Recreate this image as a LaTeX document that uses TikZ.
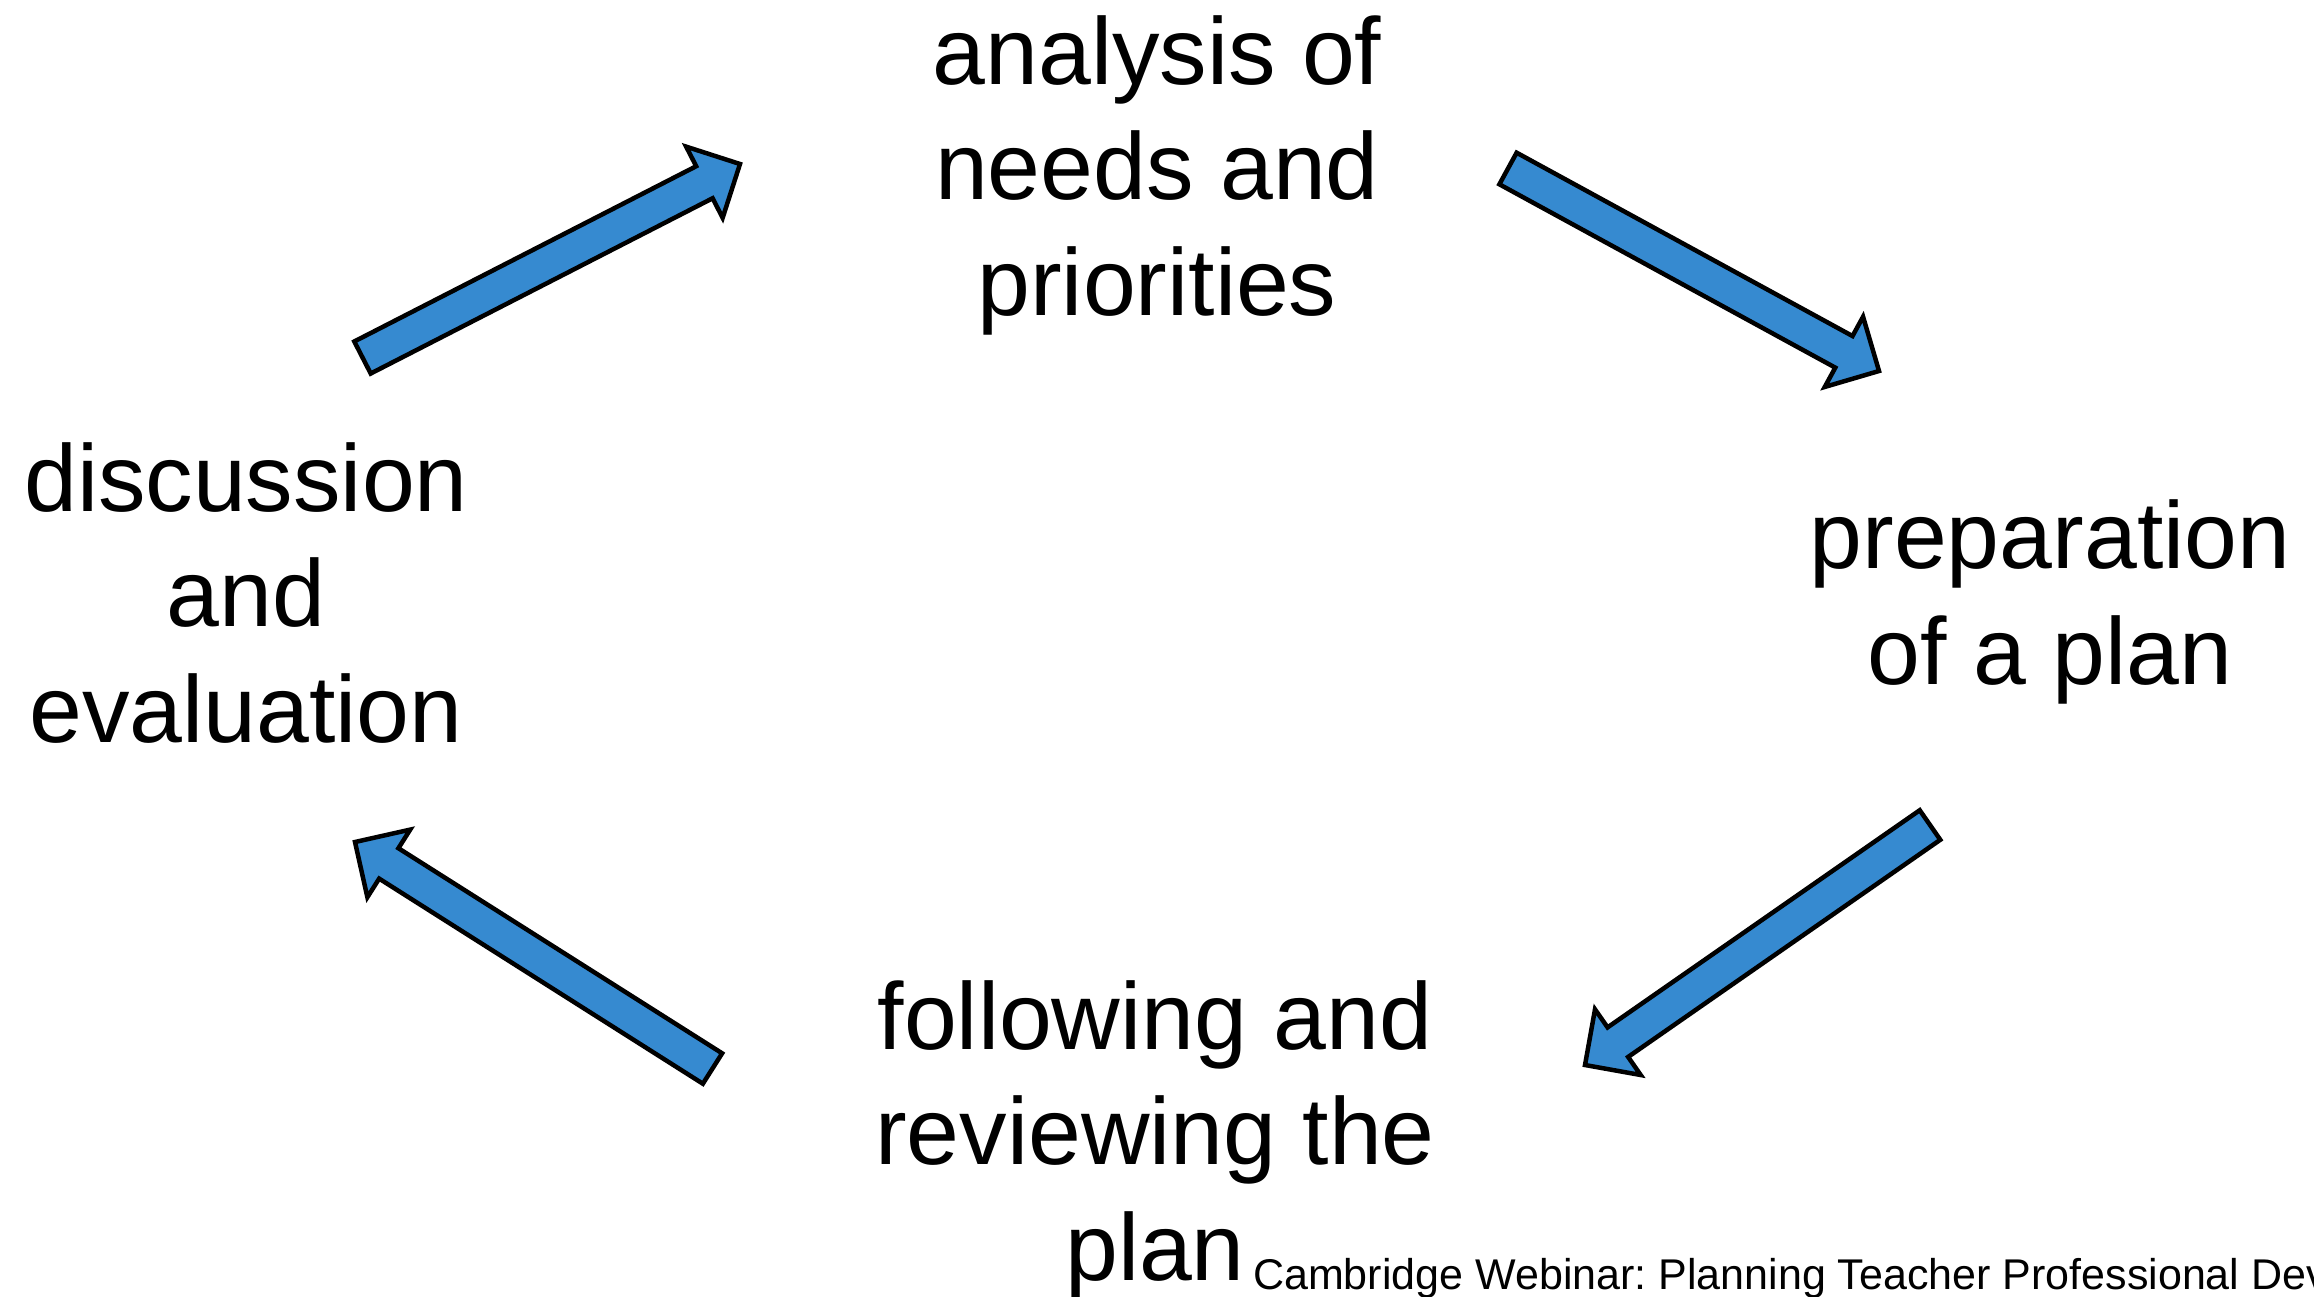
\documentclass[tikz,border=0pt]{standalone}
\usepackage{fontspec}
\setmainfont{Liberation Sans}
\usetikzlibrary{calc}
\frenchspacing

\definecolor{arrowblue}{RGB}{54,138,208}

\tikzset{
  label text/.style={font=\fontsize{95}{115.5}\selectfont, align=center, inner sep=0pt, anchor=base},
  footer text/.style={font=\fontsize{43}{50}\selectfont, inner sep=0pt, anchor=base west},
  block arrow/.style={fill=arrowblue, draw=black, line width=4.5pt, line join=miter},
}

% block arrow from tail coordinate #1 to tip coordinate #2
\newcommand{\blockarrow}[2]{%
  \coordinate (#1-h) at ($(#2)!40pt!(#1)$);
  \path[block arrow]
    ($(#1)!18pt!90:(#2)$) --
    ($(#1-h)!18pt!90:(#2)$) --
    ($(#1-h)!40pt!90:(#2)$) --
    (#2) --
    ($(#1-h)!40pt!-90:(#2)$) --
    ($(#1-h)!18pt!-90:(#2)$) --
    ($(#1)!18pt!-90:(#2)$) -- cycle;
}

\begin{document}
\begin{tikzpicture}[x=1pt, y=-1pt]
  \useasboundingbox (0,0) rectangle (2314,1296);
  \fill[white] (0,0) rectangle (2314,1296);

  % stage labels (anchored at the baseline of the last line)
  \node[label text] (needs) at (1157,315) {analysis of\\needs and\\priorities};
  \node[label text] (prep) at (2050,684) {preparation\\of a plan};
  \node[label text] (review) at (1155,1280) {following and\\reviewing the\\plan};
  \node[label text] (discuss) at (246,742) {discussion\\and\\evaluation};

  % footer
  \node[footer text] (footer) at (1253,1289) {Cambridge Webinar: Planning Teacher Professional Dev};

  % cycle arrows
  \coordinate (a1) at (362.5,357.5);  \coordinate (b1) at (740,164);
  \coordinate (a2) at (1508,168.5);   \coordinate (b2) at (1879,371);
  \coordinate (a3) at (1930,825);     \coordinate (b3) at (1585,1065);
  \coordinate (a4) at (712.5,1068.5); \coordinate (b4) at (355,842);
  \blockarrow{a1}{b1}
  \blockarrow{a2}{b2}
  \blockarrow{a3}{b3}
  \blockarrow{a4}{b4}
\end{tikzpicture}
\end{document}
